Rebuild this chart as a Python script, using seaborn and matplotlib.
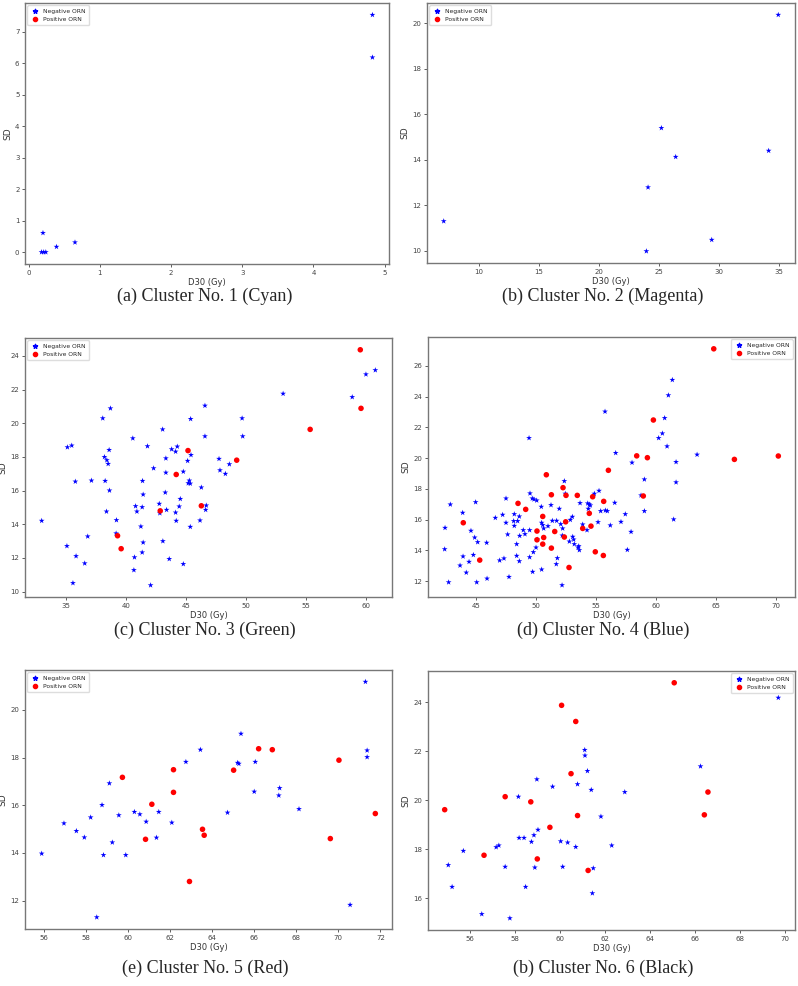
import numpy as np
import pandas as pd
import seaborn as sns
import matplotlib.pyplot as plt

# ---- data (D30 in Gy, SD) ----
c1_neg_x = [0.20, 0.18, 0.21, 0.24, 0.39, 0.65, 4.83, 4.83]
c1_neg_y = [0.61, 0.0, 0.0, 0.0, 0.17, 0.31, 7.53, 6.18]
c1_pos_x = []
c1_pos_y = []

c2_neg_x = [7.09, 23.96, 24.10, 25.21, 26.40, 29.40, 34.14, 34.94]
c2_neg_y = [11.29, 9.97, 12.78, 15.39, 14.12, 10.47, 14.39, 20.37]
c2_pos_x = []
c2_pos_y = []

c3_neg_x = [33.0, 35.14, 35.5, 35.8, 35.1, 35.86, 35.6, 36.83, 36.58, 37.14,
            38.08, 38.72, 38.22, 38.42, 38.53, 38.61, 38.28, 38.64, 38.39, 39.22,
            39.19, 40.58, 41.8, 40.81, 40.92, 41.39, 41.44, 41.36, 41.25, 41.44,
            41.36, 40.72, 40.67, 42.06, 42.31, 43.06, 43.33, 43.33, 43.28, 42.78,
            42.83, 43.39, 43.08, 43.61, 43.81, 44.14, 44.28, 44.53, 44.44, 44.14,
            44.19, 44.78, 44.78, 45.14, 45.42, 45.39, 45.28, 45.19, 45.36, 45.36,
            46.17, 46.58, 46.58, 46.28, 46.69, 46.64, 47.75, 47.83, 48.28, 48.61,
            49.67, 49.72, 53.08, 58.83, 59.97, 60.75]
c3_neg_y = [14.21, 18.58, 18.68, 16.54, 12.71, 12.11, 10.51, 13.28, 11.68, 16.60,
            20.30, 20.89, 18.0, 17.81, 17.59, 18.42, 16.58, 16.01, 14.76, 14.25,
            13.46, 19.11, 18.64, 15.08, 14.76, 16.58, 15.77, 15.02, 13.87, 12.92,
            12.33, 12.04, 11.28, 10.38, 17.33, 19.64, 17.92, 17.07, 15.89, 15.22,
            14.66, 14.86, 13.0, 11.94, 18.46, 18.32, 18.62, 15.51, 15.06, 14.70,
            14.21, 11.64, 17.13, 17.77, 18.12, 20.26, 16.60, 16.44, 16.42, 13.85,
            14.23, 21.05, 19.23, 16.19, 15.12, 14.86, 17.89, 17.21, 17.0, 17.57,
            20.30, 19.23, 21.76, 21.56, 22.91, 23.16]
c3_pos_x = [45.17, 44.19, 42.86, 39.31, 39.61, 46.28, 49.22, 55.33, 59.5, 59.56]
c3_pos_y = [18.38, 16.96, 14.80, 13.32, 12.55, 15.10, 17.81, 19.64, 24.37, 20.89]

c4_neg_x = [42.42, 42.39, 42.72, 42.86, 43.89, 43.92, 43.67, 44.19, 44.42, 44.58,
            44.89, 44.78, 45.14, 44.97, 45.06, 45.89, 45.92, 46.61, 46.97, 47.33,
            47.22, 47.5, 47.5, 47.64, 47.75, 48.19, 48.14, 48.19, 48.39, 48.47,
            48.61, 48.61, 48.64, 48.39, 48.94, 49.08, 49.42, 49.5, 49.69, 49.83,
            50.06, 49.47, 49.47, 49.78, 49.72, 50.0, 50.11, 50.44, 50.47, 50.56,
            50.64, 50.47, 51.0, 51.25, 51.36, 51.72, 51.94, 52.06, 51.78, 51.69,
            52.17, 52.22, 52.19, 52.36, 52.44, 52.78, 52.86, 53.03, 53.06, 53.14,
            53.19, 53.5, 53.56, 53.61, 53.67, 53.89, 54.25, 54.31, 54.36, 54.44,
            54.53, 54.86, 55.17, 55.25, 55.39, 55.75, 55.78, 55.94, 56.19, 56.56,
            56.64, 57.08, 57.44, 57.61, 57.92, 58.0, 58.75, 59.03, 59.03, 60.22,
            60.53, 60.72, 60.92, 61.03, 61.36, 61.47, 61.67, 61.67, 63.42]
c4_neg_y = [15.47, 14.08, 11.93, 16.99, 16.45, 13.61, 13.02, 12.56, 13.26, 15.28,
            14.84, 13.71, 14.54, 17.14, 11.93, 14.50, 12.17, 16.12, 13.35, 13.48,
            16.32, 17.38, 15.80, 15.04, 12.28, 16.36, 15.91, 15.60, 14.41, 15.91,
            16.21, 13.30, 14.95, 13.65, 15.32, 15.06, 21.31, 17.71, 17.38, 17.32,
            17.25, 15.32, 13.56, 13.89, 12.61, 14.19, 14.71, 16.84, 15.80, 15.65,
            15.43, 12.76, 15.58, 16.95, 15.93, 15.93, 16.71, 15.71, 13.50, 13.11,
            11.74, 15.43, 14.97, 18.51, 17.69, 14.58, 15.99, 16.19, 14.89, 14.71,
            14.41, 14.19, 14.28, 14.02, 17.08, 15.69, 15.32, 17.06, 16.71, 16.99,
            16.93, 17.69, 15.84, 17.88, 16.56, 23.03, 16.60, 16.56, 15.63, 17.10,
            20.34, 15.86, 16.36, 14.04, 15.21, 19.71, 17.58, 18.62, 16.56, 21.31,
            21.61, 22.61, 20.77, 24.09, 25.09, 16.02, 19.75, 18.43, 20.23]
c4_pos_x = [43.94, 45.31, 48.5, 49.14, 50.86, 50.08, 50.08, 50.56, 50.64, 50.56,
            51.28, 51.28, 51.56, 52.25, 52.5, 52.47, 52.36, 52.75, 53.44, 53.89,
            54.44, 54.58, 54.72, 54.94, 55.64, 55.61, 56.03, 58.39, 59.28, 58.94,
            59.78, 64.81, 66.53, 70.19]
c4_pos_y = [15.80, 13.37, 17.06, 16.67, 18.92, 15.26, 14.69, 16.21, 14.84, 14.41,
            17.62, 14.15, 15.23, 18.08, 17.58, 15.86, 14.87, 12.89, 17.58, 15.43,
            16.41, 15.58, 17.49, 13.91, 17.19, 13.67, 19.21, 20.15, 20.03, 17.54,
            22.48, 27.11, 19.92, 20.14]

c5_neg_x = [55.89, 56.95, 57.54, 57.92, 58.22, 58.51, 58.76, 58.83, 59.11, 59.25,
            59.56, 59.89, 60.30, 60.56, 60.86, 61.35, 61.46, 62.08, 62.75, 63.44,
            64.73, 65.21, 65.27, 65.37, 66.05, 66.0, 67.21, 67.17, 68.13, 70.56,
            71.29, 71.37, 71.37]
c5_neg_y = [13.97, 15.24, 14.92, 14.65, 15.49, 11.30, 16.01, 13.91, 16.92, 14.44,
            15.58, 13.91, 15.72, 15.62, 15.31, 14.64, 15.72, 15.27, 17.82, 18.33,
            15.69, 17.78, 17.74, 19.0, 17.82, 16.57, 16.72, 16.41, 15.84, 11.82,
            21.18, 18.30, 18.02]
c5_pos_x = [59.73, 60.83, 61.13, 62.16, 62.16, 62.92, 63.54, 63.62, 65.02, 66.21,
            66.86, 69.62, 70.03, 71.76]
c5_pos_y = [17.17, 14.57, 16.04, 17.49, 16.54, 12.80, 14.99, 14.74, 17.47, 18.37,
            18.33, 14.60, 17.89, 15.65]

c6_neg_x = [55.03, 55.2, 55.7, 56.52, 57.16, 57.28, 57.56, 57.77, 58.15, 58.18,
            58.40, 58.47, 58.73, 58.84, 58.88, 58.97, 59.02, 59.67, 60.03, 60.12,
            60.34, 60.70, 60.78, 61.10, 61.11, 61.22, 61.39, 61.44, 61.48, 61.82,
            62.30, 62.88, 66.25, 69.71]
c6_neg_y = [17.35, 16.46, 17.93, 15.35, 18.08, 18.15, 17.28, 15.18, 20.14, 18.46,
            18.46, 16.46, 18.30, 18.57, 17.25, 20.85, 18.79, 20.55, 18.32, 17.28,
            18.27, 18.09, 20.65, 22.05, 21.82, 21.19, 20.42, 16.20, 17.22, 19.33,
            18.15, 20.33, 21.38, 24.18]
c6_pos_x = [54.87, 56.62, 57.56, 58.70, 58.99, 59.55, 60.07, 60.49, 60.70, 60.78,
            61.25, 65.08, 66.58, 66.42]
c6_pos_y = [19.61, 17.75, 20.14, 19.93, 17.60, 18.89, 23.87, 21.08, 23.21, 19.37,
            17.13, 24.79, 20.33, 19.40]

captions = ["(a) Cluster No. 1 (Cyan)", "(b) Cluster No. 2 (Magenta)",
            "(c) Cluster No. 3 (Green)", "(d) Cluster No. 4 (Blue)",
            "(e) Cluster No. 5 (Red)", "(b) Cluster No. 6 (Black)"]

clusters = [(c1_neg_x, c1_neg_y, c1_pos_x, c1_pos_y),
            (c2_neg_x, c2_neg_y, c2_pos_x, c2_pos_y),
            (c3_neg_x, c3_neg_y, c3_pos_x, c3_pos_y),
            (c4_neg_x, c4_neg_y, c4_pos_x, c4_pos_y),
            (c5_neg_x, c5_neg_y, c5_pos_x, c5_pos_y),
            (c6_neg_x, c6_neg_y, c6_pos_x, c6_pos_y)]

legend_loc = ["upper left", "upper left", "upper left",
              "upper right", "upper left", "upper right"]

# axes boxes in pixels: left, top, right, bottom
boxes = [(25, 3, 389, 264), (427, 3, 795, 263),
         (25, 338, 392, 597), (428, 337, 795, 597),
         (25, 670, 392, 929), (428, 671, 795, 930)]
caption_pos = [(205, 296), (603, 296), (205, 630), (603, 630), (205, 968), (603, 968)]

W, H = 798, 986
sns.set_style("white")
plt.rcParams['font.family'] = ['DejaVu Sans']

fig = plt.figure(figsize=(W / 100, H / 100), dpi=100)
fig.patch.set_facecolor("white")

order = ["Negative ORN", "Positive ORN"]
palette = {"Negative ORN": "blue", "Positive ORN": "red"}
markers = {"Negative ORN": "*", "Positive ORN": "o"}
sizes = {"Negative ORN": 19, "Positive ORN": 16}

for i, (nx, ny, px, py) in enumerate(clusters):
    l, t, r, b = boxes[i]
    ax = fig.add_axes([l / W, 1 - b / H, (r - l) / W, (b - t) / H])
    df = pd.DataFrame({
        "D30": list(nx) + list(px),
        "SD": list(ny) + list(py),
        "ORN": ["Negative ORN"] * len(nx) + ["Positive ORN"] * len(px),
    })
    sns.scatterplot(data=df, x="D30", y="SD", hue="ORN", style="ORN",
                    size="ORN", sizes=sizes, size_order=order,
                    hue_order=order, style_order=order, palette=palette,
                    markers=markers, linewidth=0, ax=ax, legend=False)
    # legend handles (positive entry shown even when the cluster has none)
    h1 = ax.scatter([], [], marker="*", color="blue", s=10, label="Negative ORN")
    h2 = ax.scatter([], [], marker="o", color="red", s=9, label="Positive ORN")
    ax.legend(handles=[h1, h2], loc=legend_loc[i], fontsize=4.3,
              borderpad=0.55, handletextpad=0.5, handlelength=1.6,
              labelspacing=0.45, borderaxespad=0.4,
              framealpha=1, edgecolor="#dddddd", fancybox=True)
    ax.set_xlabel("D30 (Gy)", fontsize=6, color="#333333", labelpad=2)
    ax.set_ylabel("SD", fontsize=6.5, color="#333333", labelpad=2)
    ax.tick_params(labelsize=5.0, colors="#444444", length=2.5, width=0.6, pad=1.5,
                   left=True, bottom=True)
    for sp in ax.spines.values():
        sp.set_color("#777777")
        sp.set_linewidth(1.0)
    cx, cy = caption_pos[i]
    fig.text(cx / W, 1 - cy / H, captions[i], ha="center", va="center",
             fontsize=13, family=["Liberation Serif", "DejaVu Serif"])

fig.savefig("out.png", dpi=100, facecolor="white")
